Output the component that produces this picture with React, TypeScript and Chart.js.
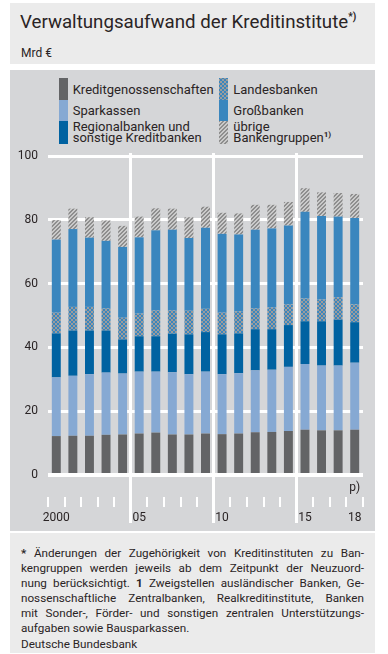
import React, { useEffect, useMemo, useRef } from 'react';
import { Chart, registerables } from 'chart.js';

Chart.register(...registerables);

const years = ['2000', '2001', '2002', '2003', '2004', '2005', '2006', '2007', '2008', '2009', '2010', '2011', '2012', '2013', '2014', '2015', '2016', '2017', '2018'];
const tickLabels = ['2000', '', '', '', '', '05', '', '', '', '', '10', '', '', '', '', '15', '', '', '18'];
const kreditgenossenschaften = [12.2, 12.3, 12.3, 12.6, 12.7, 13.0, 13.3, 12.7, 12.7, 13.0, 12.8, 13.0, 13.4, 13.5, 13.8, 14.2, 14.0, 14.0, 14.2];
const sparkassen = [18.4, 18.8, 19.3, 19.5, 19.1, 19.4, 19.1, 19.5, 18.9, 19.4, 18.8, 18.9, 19.4, 19.5, 20.1, 20.6, 20.3, 20.3, 21.0];
const regionalbanken = [13.8, 14.2, 13.7, 13.2, 10.7, 11.1, 11.1, 12.1, 12.5, 12.4, 12.5, 12.5, 12.9, 12.7, 13.1, 13.4, 13.9, 14.4, 12.7];
const landesbanken = [6.5, 7.4, 7.4, 6.9, 6.8, 7.1, 8.1, 7.3, 7.4, 7.3, 6.8, 6.9, 6.5, 6.8, 6.5, 7.1, 6.8, 7.0, 5.6];
const grossbanken = [22.9, 24.4, 21.7, 21.2, 22.2, 23.9, 25.1, 25.3, 22.8, 25.4, 24.7, 24.1, 24.7, 24.8, 24.7, 27.2, 26.2, 25.3, 27.1];
const uebrige = [6.1, 6.4, 6.4, 6.4, 6.6, 6.5, 6.9, 6.6, 6.5, 6.6, 6.6, 6.6, 7.8, 7.4, 7.4, 7.4, 7.4, 7.4, 7.5];
const separatorYears = ['2005', '2010', '2015'];
const provisionalYear = '2018';

const FONT = 'Roboto, "Open Sans", sans-serif';
const TEXT = '#2a2425';
const C_KG = '#636466';
const C_SPK = '#86a9d3';
const C_REG = '#0062a1';
const C_GB = '#3a86be';

function makeTile(kind: 'hatch' | 'cross'): HTMLCanvasElement {
  const c = document.createElement('canvas');
  c.width = 4;
  c.height = 4;
  const ctx = c.getContext('2d')!;
  if (kind === 'hatch') {
    ctx.fillStyle = '#cacaca';
    ctx.fillRect(0, 0, 4, 4);
    ctx.fillStyle = '#8e8e8e';
    for (let y = 0; y < 4; y++)
      for (let x = 0; x < 4; x++) if ((x + y) % 4 === 0 || (x + y) % 4 === 3) ctx.fillRect(x, y, 1, 1);
  } else {
    ctx.fillStyle = '#9c9c9c';
    ctx.fillRect(0, 0, 4, 4);
    ctx.fillStyle = C_GB;
    for (let y = 0; y < 4; y++)
      for (let x = 0; x < 4; x++) if (x === y || x + y === 3) ctx.fillRect(x, y, 1, 1);
  }
  return c;
}

export default function App() {
  const canvasRef = useRef<HTMLCanvasElement>(null);
  const tiles = useMemo(() => ({ hatch: makeTile('hatch'), cross: makeTile('cross') }), []);
  const hatchUrl = useMemo(() => tiles.hatch.toDataURL(), [tiles]);
  const crossUrl = useMemo(() => tiles.cross.toDataURL(), [tiles]);

  useEffect(() => {
    const canvas = canvasRef.current!;
    const ctx = canvas.getContext('2d')!;
    const hatch = ctx.createPattern(tiles.hatch, 'repeat')!;
    const cross = ctx.createPattern(tiles.cross, 'repeat')!;

    const overlay = {
      id: 'overlay',
      beforeDatasetsDraw(chart: any) {
        const { ctx: c, chartArea, scales } = chart;
        const xs = scales.x;
        const step = xs.getPixelForValue(1) - xs.getPixelForValue(0);
        c.save();
        c.fillStyle = '#ffffff';
        for (let i = 0; i <= years.length; i++) {
          const center = i < years.length ? xs.getPixelForValue(i) : xs.getPixelForValue(years.length - 1) + step;
          const bx = center - step / 2;
          if (i < years.length && separatorYears.includes(years[i])) {
            c.fillRect(Math.round(bx - 1.5), chartArea.top - 3, 3, chartArea.bottom + 48 - (chartArea.top - 3));
          } else {
            c.fillRect(Math.round(bx - 1), chartArea.bottom + 22, 2, 10);
          }
        }
        c.restore();
      },
      afterDraw(chart: any) {
        const { ctx: c, chartArea, scales } = chart;
        const px = scales.x.getPixelForValue(years.indexOf(provisionalYear));
        c.save();
        c.font = `12px ${FONT}`;
        c.fillStyle = TEXT;
        c.textAlign = 'center';
        c.textBaseline = 'middle';
        c.fillText('p)', px, chartArea.bottom + 13);
        c.restore();
      },
    };

    const mk = (label: string, data: number[], bg: any) => ({
      label,
      data,
      backgroundColor: bg,
      borderWidth: 0,
      stack: 's',
      categoryPercentage: 1,
      barPercentage: 0.54,
    });

    const chart = new Chart(canvas, {
      type: 'bar',
      data: {
        labels: years,
        datasets: [
          mk('Kreditgenossenschaften', kreditgenossenschaften, C_KG),
          mk('Sparkassen', sparkassen, C_SPK),
          mk('Regionalbanken und sonstige Kreditbanken', regionalbanken, C_REG),
          mk('Landesbanken', landesbanken, cross),
          mk('Großbanken', grossbanken, C_GB),
          mk('übrige Bankengruppen', uebrige, hatch),
        ],
      },
      options: {
        responsive: false,
        animation: false,
        devicePixelRatio: 1,
        layout: { padding: { top: 10, right: 25, left: 0, bottom: 0 } },
        plugins: { legend: { display: false }, tooltip: { enabled: false } },
        scales: {
          x: {
            stacked: true,
            offset: true,
            grid: { display: false, drawTicks: false },
            border: { display: false },
            ticks: {
              autoSkip: false,
              maxRotation: 0,
              minRotation: 0,
              padding: 36,
              color: TEXT,
              font: { family: FONT, size: 12 },
              callback: (_v: any, i: number) => tickLabels[i],
            },
            afterFit: (s: any) => {
              s.height = 60;
              s.paddingLeft = 0;
              s.paddingRight = 0;
            },
          },
          y: {
            stacked: true,
            min: 0,
            max: 100,
            border: { display: false },
            grid: {
              color: '#ffffff',
              lineWidth: (c: any) => (c.tick && c.tick.value === 0 ? 4 : 3),
              drawTicks: false,
            },
            ticks: {
              stepSize: 20,
              padding: 10,
              color: TEXT,
              font: { family: FONT, size: 12 },
            },
            afterFit: (s: any) => {
              s.width = 48;
              s.paddingTop = 0;
              s.paddingBottom = 0;
            },
          },
        },
      },
      plugins: [overlay],
    } as any);
    return () => chart.destroy();
  }, [tiles]);

  const swatch = (left: number, top: number, h: number, bg: string): React.CSSProperties => ({
    position: 'absolute',
    left,
    top,
    width: 9,
    height: h,
    background: bg,
    imageRendering: 'pixelated',
  });
  const legendText = (left: number, top: number): React.CSSProperties => ({
    position: 'absolute',
    left,
    top,
    fontSize: 13,
    lineHeight: '11px',
    color: TEXT,
    whiteSpace: 'nowrap',
  });
  const sup: React.CSSProperties = { fontSize: 8, fontWeight: 700, position: 'relative', top: -5 };
  const justLine: React.CSSProperties = { textAlign: 'justify', textAlignLast: 'justify' as any, height: 15 };

  return (
    <div
      style={{
        position: 'absolute',
        left: 0,
        top: 0,
        width: 388,
        height: 654,
        background: '#ffffff',
        fontFamily: FONT,
        color: TEXT,
        overflow: 'hidden',
      }}
    >
      <div style={{ position: 'absolute', left: 10, top: 3, width: 365, height: 61, background: '#ebebeb' }}>
        <div style={{ position: 'absolute', left: 10, top: 8.9, fontSize: 18.7, lineHeight: '20px', whiteSpace: 'nowrap' }}>
          Verwaltungsaufwand der Kreditinstitute
          <span style={{ fontSize: 10, fontWeight: 700, position: 'relative', top: -8 }}>*)</span>
        </div>
        <div style={{ position: 'absolute', left: 11, top: 42.6, fontSize: 12, lineHeight: '14px' }}>Mrd €</div>
      </div>

      <div style={{ position: 'absolute', left: 10, top: 70, width: 365, height: 461, background: '#d5d6d8' }}>
        <div style={swatch(49, 8, 22, C_KG)} />
        <div style={swatch(49, 30, 21, C_SPK)} />
        <div style={swatch(49, 51, 23, C_REG)} />
        <div style={legendText(62.7, 14.4)}>Kreditgenossenschaften</div>
        <div style={legendText(62.7, 34.6)}>Sparkassen</div>
        <div style={legendText(62.7, 51.3)}>
          Regionalbanken und
          <br />
          sonstige Kreditbanken
        </div>
        <div style={swatch(209, 8, 22, `url(${crossUrl})`)} />
        <div style={swatch(209, 30, 21, C_GB)} />
        <div style={swatch(209, 51, 23, `url(${hatchUrl})`)} />
        <div style={legendText(223.3, 14.4)}>Landesbanken</div>
        <div style={legendText(223.3, 34.6)}>Großbanken</div>
        <div style={legendText(223.3, 51.3)}>
          übrige
          <br />
          Bankengruppen<span style={sup}>1)</span>
        </div>
      </div>

      <canvas
        ref={canvasRef}
        width={388}
        height={389}
        style={{ position: 'absolute', left: 0, top: 146, width: 388, height: 389 }}
      />

      <div style={{ position: 'absolute', left: 10, top: 533, width: 365, height: 120, background: '#ebebeb' }}>
        <div style={{ position: 'absolute', left: 11, top: 12.5, width: 343, fontSize: 11.7, lineHeight: '15px' }}>
          <div style={justLine}>
            <b>*</b> Änderungen der Zugehörigkeit von Kreditinstituten zu Ban-
          </div>
          <div style={justLine}>kengruppen werden jeweils ab dem Zeitpunkt der Neuzuord-</div>
          <div style={justLine}>
            nung berücksichtigt. <b>1</b> Zweigstellen ausländischer Banken, Ge-
          </div>
          <div style={justLine}>nossenschaftliche Zentralbanken, Realkreditinstitute, Banken</div>
          <div style={justLine}>mit Sonder-, Förder- und sonstigen zentralen Unterstützungs-</div>
          <div style={{ height: 15 }}>aufgaben sowie Bausparkassen.</div>
        </div>
        <div style={{ position: 'absolute', left: 11, top: 103.8, fontSize: 11.7, lineHeight: '15px' }}>
          Deutsche Bundesbank
        </div>
      </div>
    </div>
  );
}
